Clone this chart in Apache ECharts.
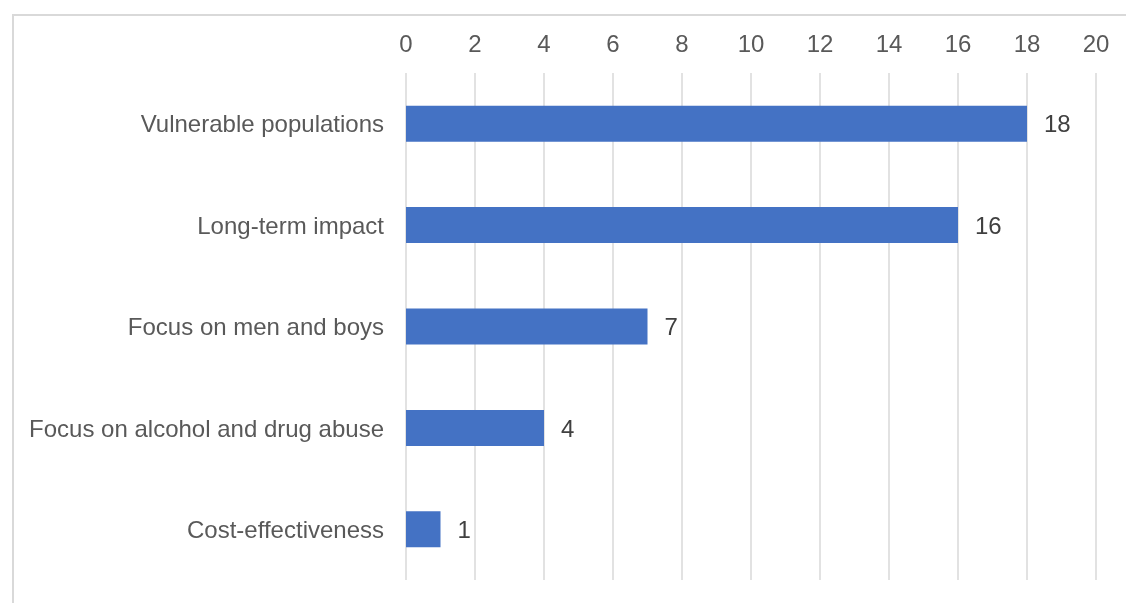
<!DOCTYPE html>
<html><head><meta charset="utf-8">
<script src="https://cdn.jsdelivr.net/npm/echarts@6/dist/echarts.min.js"></script>
<style>html,body{margin:0;padding:0;background:#fff}#c{width:1126px;height:603px}</style>
</head><body><div id="c"></div>
<script>
const categories = ["Vulnerable populations","Long-term impact","Focus on men and boys","Focus on alcohol and drug abuse","Cost-effectiveness"];
const values = [18,16,7,4,1];
const xMin = 0, xMax = 20, xInterval = 2;

const font = 'Liberation Sans, Arial';
const chart = echarts.init(document.getElementById('c'), null, {renderer:'canvas'});
chart.setOption({
  animation:false,
  backgroundColor:'#fff',
  graphic:[{type:'polyline',shape:{points:[[13,620],[13,15],[1140,15]]},style:{fill:null,stroke:'#d9d9d9',lineWidth:2},silent:true,z:-1}],
  grid:{left:406,right:30,top:73,bottom:23,containLabel:false},
  xAxis:{type:'value',position:'top',min:xMin,max:xMax,interval:xInterval,
    axisLine:{show:false},axisTick:{show:false},
    axisLabel:{color:'#595959',fontSize:24,fontFamily:font,margin:16},
    splitLine:{show:true,lineStyle:{color:'#d9d9d9',width:1.5}}},
  yAxis:{type:'category',data:categories,inverse:true,
    axisLine:{show:false},axisTick:{show:false},
    axisLabel:{margin:22,formatter:'{a|{value}}',
      rich:{a:{color:'#595959',fontSize:24,fontFamily:font,padding:[4,0,0,0]}}}},
  series:[{type:'bar',data:values,barWidth:36,itemStyle:{color:'#4472C4'},
    label:{show:true,position:'right',distance:17,offset:[0,2],color:'#404040',fontSize:24,fontFamily:font}}]
});
</script></body></html>
